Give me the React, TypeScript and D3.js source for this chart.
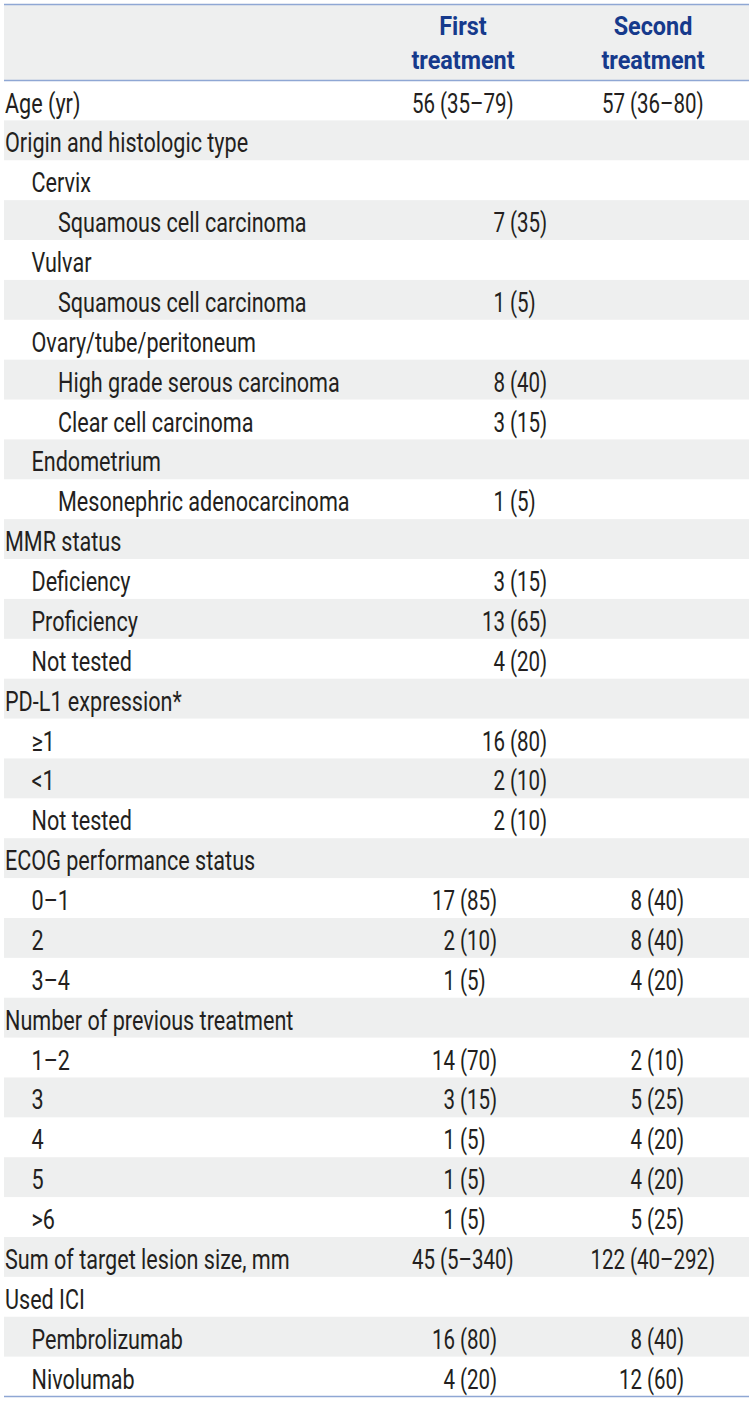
import React from "react";
import * as d3 from "d3";

const rowLabels = [
  "Age (yr)",
  "Origin and histologic type",
  "Cervix",
  "Squamous cell carcinoma",
  "Vulvar",
  "Squamous cell carcinoma",
  "Ovary/tube/peritoneum",
  "High grade serous carcinoma",
  "Clear cell carcinoma",
  "Endometrium",
  "Mesonephric adenocarcinoma",
  "MMR status",
  "Deficiency",
  "Proficiency",
  "Not tested",
  "PD-L1 expression*",
  "≥1",
  "<1",
  "Not tested",
  "ECOG performance status",
  "0–1",
  "2",
  "3–4",
  "Number of previous treatment",
  "1–2",
  "3",
  "4",
  "5",
  ">6",
  "Sum of target lesion size, mm",
  "Used ICI",
  "Pembrolizumab",
  "Nivolumab",
];

const rowLevels = [0, 0, 1, 2, 1, 2, 1, 2, 2, 1, 2, 0, 1, 1, 1, 0, 1, 1, 1, 0, 1, 1, 1, 0, 1, 1, 1, 1, 1, 0, 0, 1, 1];

const firstTreatment = [
  "56 (35–79)", "", "", "7 (35)", "", "1 (5)", "", "8 (40)", "3 (15)", "", "1 (5)",
  "", "3 (15)", "13 (65)", "4 (20)",
  "", "16 (80)", "2 (10)", "2 (10)",
  "", "17 (85)", "2 (10)", "1 (5)",
  "", "14 (70)", "3 (15)", "1 (5)", "1 (5)", "1 (5)",
  "45 (5–340)", "", "16 (80)", "4 (20)",
];

const secondTreatment = [
  "57 (36–80)", "", "", "", "", "", "", "", "", "", "",
  "", "", "", "",
  "", "", "", "",
  "", "8 (40)", "8 (40)", "4 (20)",
  "", "2 (10)", "5 (25)", "4 (20)", "4 (20)", "5 (25)",
  "122 (40–292)", "", "8 (40)", "12 (60)",
];

const columnHeaders = [
  ["First", "treatment"],
  ["Second", "treatment"],
];

const W = 753;
const H = 1401;
const LEFT = 4;
const RIGHT = 749;
const TOP_LINE = 4.5;
const HEADER_BOTTOM = 80.5;
const BODY_BOTTOM = 1396.5;
const TEXT = "#231f20";
const BAND = "#eeefef";
const RULE = "#8fa7d4";
const HEAD = "#163a8c";
const FONT = "Roboto, 'Noto Sans', sans-serif";
const FS = 27;
const LSX = 0.8;
const VSX = 0.76;
const HSX = 0.9;
const WEIGHT = 400;

function ValueText({ value, parenX, y }: { value: string; parenX: number; y: number }) {
  if (!value) return null;
  const i = value.indexOf(" (");
  const num = i >= 0 ? value.slice(0, i) : value;
  const rest = i >= 0 ? value.slice(i + 1) : "";
  return (
    <g>
      <text
        transform={`translate(${parenX - 5},${y}) scale(${VSX},1)`}
        textAnchor="end"
        fontFamily={FONT}
        fontSize={FS}
        fontWeight={WEIGHT}
        fill={TEXT}
      >
        {num}
      </text>
      {rest && (
        <text
          transform={`translate(${parenX},${y}) scale(${VSX},1)`}
          textAnchor="start"
          fontFamily={FONT}
          fontSize={FS}
          fontWeight={WEIGHT}
          fill={TEXT}
        >
          {rest}
        </text>
      )}
    </g>
  );
}

export default function App() {
  const n = rowLabels.length;
  const y = d3.scaleLinear().domain([0, n]).range([HEADER_BOTTOM, BODY_BOTTOM]);
  const indent = d3.scaleLinear().domain([0, 2]).range([5, 58]);
  const headerX = d3.scaleOrdinal<number, number>().domain([0, 1]).range([463, 653]);

  const parenPositions = (i: number) => {
    const a = firstTreatment[i];
    const b = secondTreatment[i];
    if (a.includes("–") || b.includes("–")) return [440, 630];
    if (b) return [460, 647];
    return [510, 697];
  };

  return (
    <svg
      width={W}
      height={H}
      style={{ position: "absolute", left: 0, top: 0, background: "#fff" }}
    >
      <rect x={LEFT} y={TOP_LINE} width={RIGHT - LEFT} height={HEADER_BOTTOM - TOP_LINE} fill={BAND} />
      {rowLabels.map((_, i) =>
        i % 2 === 1 ? (
          <rect key={"b" + i} x={LEFT} y={y(i)} width={RIGHT - LEFT} height={y(i + 1) - y(i)} fill={BAND} />
        ) : null
      )}
      <line x1={LEFT} x2={RIGHT} y1={TOP_LINE} y2={TOP_LINE} stroke={RULE} strokeWidth={1.6} />
      <line x1={LEFT} x2={RIGHT} y1={HEADER_BOTTOM} y2={HEADER_BOTTOM} stroke={RULE} strokeWidth={1.6} />
      <line x1={LEFT} x2={RIGHT} y1={BODY_BOTTOM} y2={BODY_BOTTOM} stroke={RULE} strokeWidth={1.6} />

      {columnHeaders.map((lines, c) =>
        lines.map((t, k) => (
          <text
            key={"h" + c + k}
            transform={`translate(${headerX(c)},${35 + k * 33.5}) scale(${HSX},1)`}
            textAnchor="middle"
            fontFamily={FONT}
            fontSize={26}
            fontWeight={700}
            fill={HEAD}
          >
            {t}
          </text>
        ))
      )}

      {rowLabels.map((label, i) => {
        const by = y(i) + 32;
        const [p1, p2] = parenPositions(i);
        return (
          <g key={"r" + i}>
            <text
              transform={`translate(${indent(rowLevels[i])},${by}) scale(${LSX},1)`}
              fontFamily={FONT}
              fontSize={FS}
              fontWeight={WEIGHT}
              fill={TEXT}
            >
              {label}
            </text>
            <ValueText value={firstTreatment[i]} parenX={p1} y={by} />
            <ValueText value={secondTreatment[i]} parenX={p2} y={by} />
          </g>
        );
      })}
    </svg>
  );
}
